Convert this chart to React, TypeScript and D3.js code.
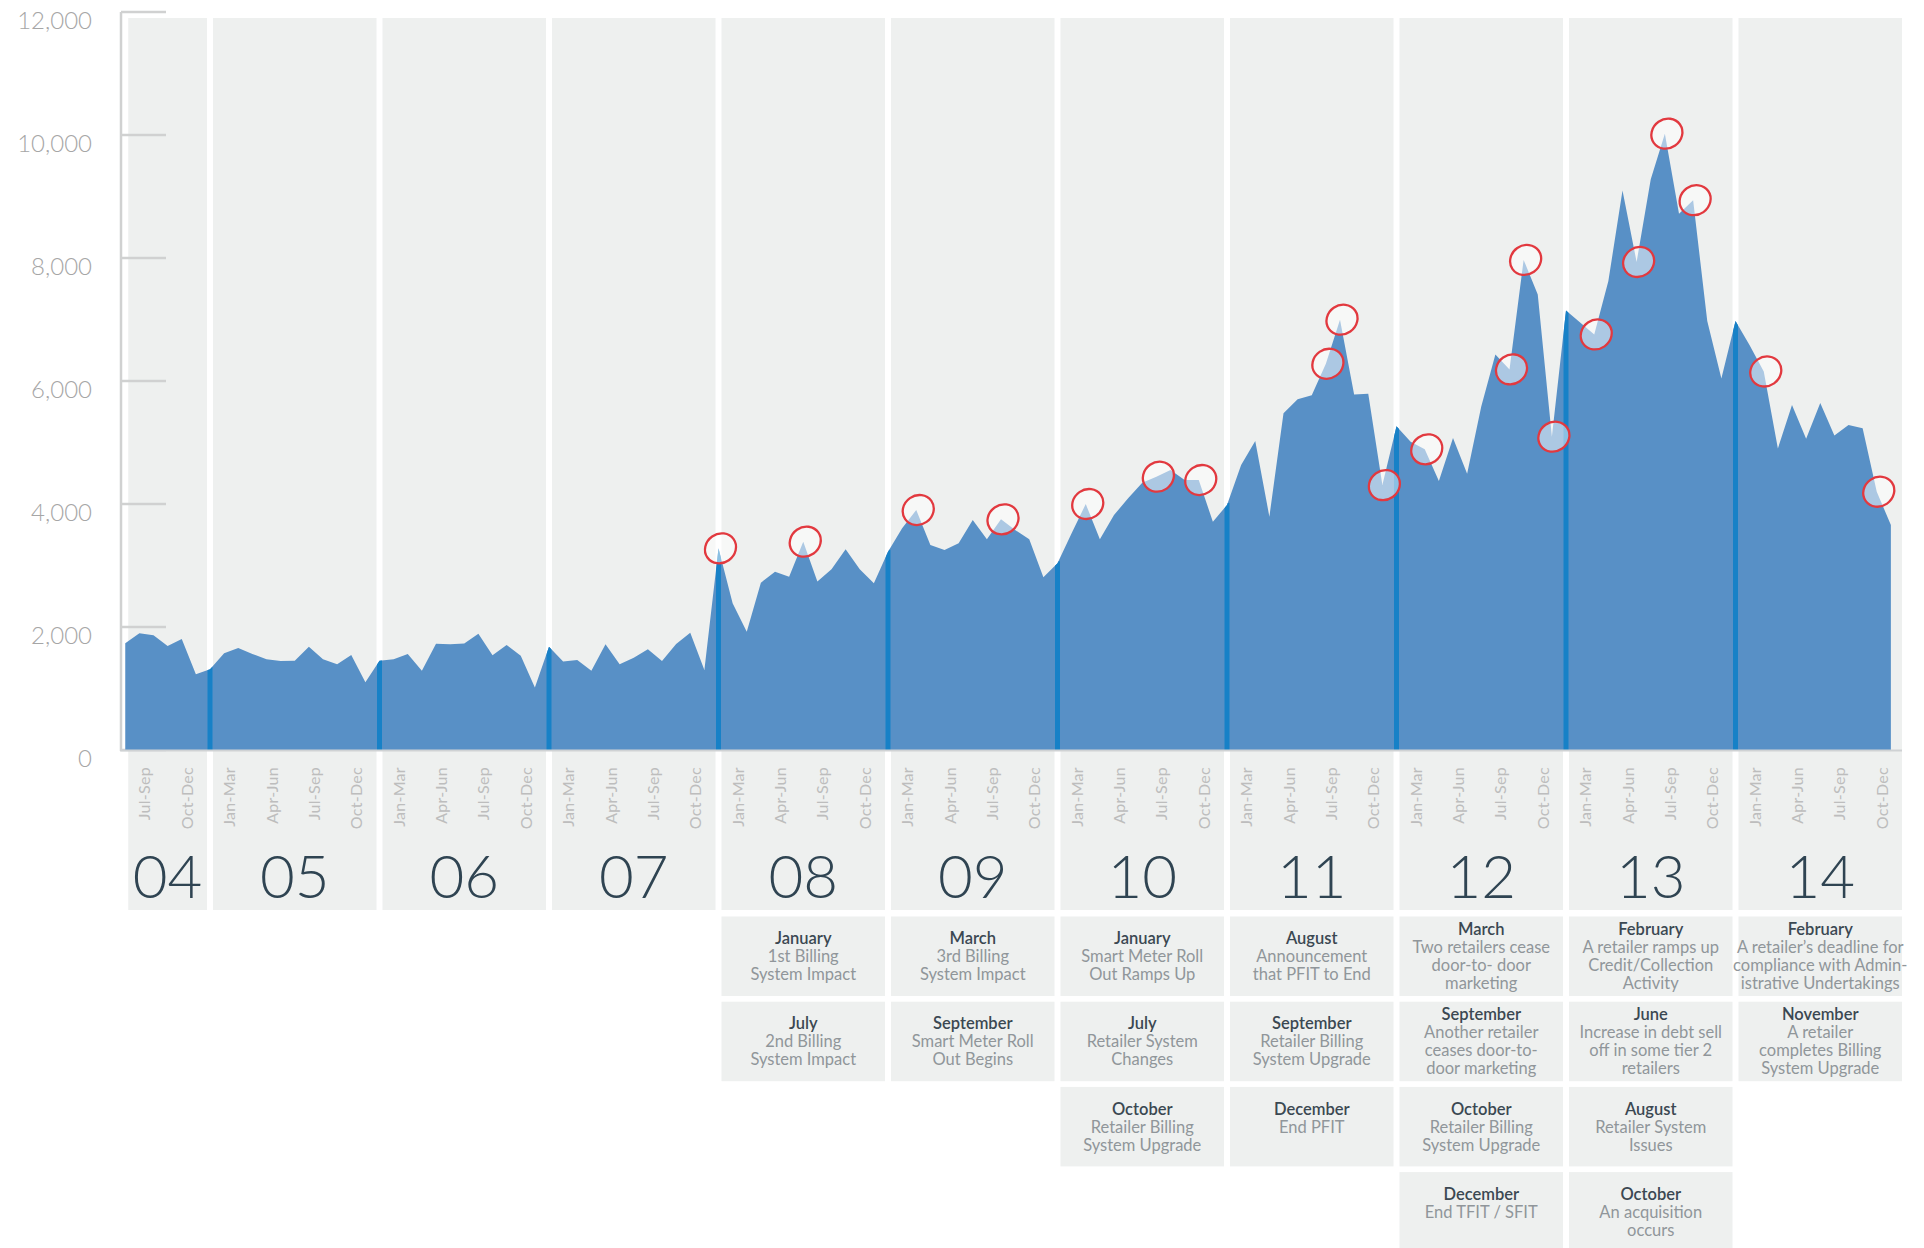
import * as d3 from "d3";

const W = 1924;
const H = 1248;

// monthly values, Jul 2004 .. Dec 2014
const values2004 = [1735, 1897, 1865, 1691, 1805, 1230];
const values2005 = [1312, 1572, 1658, 1561, 1474, 1447, 1452, 1680, 1474, 1393, 1545, 1100];
const values2006 = [1452, 1474, 1561, 1290, 1729, 1718, 1732, 1890, 1540, 1707, 1534, 1016];
const values2007 = [1680, 1438, 1463, 1287, 1718, 1393, 1501, 1637, 1447, 1724, 1908, 1301];
const values2008 = [3279, 2385, 1924, 2721, 2900, 2819, 3388, 2738, 2938, 3263, 2938, 2710];
const values2009 = [3225, 3604, 3902, 3333, 3252, 3360, 3740, 3426, 3751, 3577, 3426, 2808];
const values2010 = [3035, 3523, 4000, 3426, 3821, 4092, 4346, 4444, 4553, 4390, 4390, 3712];
const values2011 = [3984, 4634, 5024, 3794, 5475, 5702, 5770, 6280, 6997, 5779, 5792, 4307];
const values2012 = [5266, 5012, 4889, 4376, 5074, 4492, 5587, 6429, 6189, 7969, 7408, 5095];
const values2013 = [7148, 6950, 6757, 7626, 9098, 7935, 9282, 10022, 8721, 8940, 6976, 6039];
const values2014 = [6976, 6580, 6155, 4903, 5608, 5060, 5642, 5115, 5286, 5231, 4200, 3658];

const series = [
  ...values2004, ...values2005, ...values2006, ...values2007, ...values2008, ...values2009,
  ...values2010, ...values2011, ...values2012, ...values2013, ...values2014,
];

const years = [2004, 2005, 2006, 2007, 2008, 2009, 2010, 2011, 2012, 2013, 2014];
const quarterNames = ["Jan-Mar", "Apr-Jun", "Jul-Sep", "Oct-Dec"];
const yTicks = [0, 2000, 4000, 6000, 8000, 10000, 12000];

// hand drawn rings on the chart
const circleMonths = [
  "2008-01", "2008-07", "2009-03", "2009-09", "2010-03", "2010-08", "2010-11",
  "2011-08", "2011-09", "2011-12", "2012-03", "2012-09", "2012-10", "2012-12",
  "2013-03", "2013-06", "2013-08", "2013-10", "2014-03", "2014-11",
];

const eventYear = [
  2008, 2008,
  2009, 2009,
  2010, 2010, 2010,
  2011, 2011, 2011,
  2012, 2012, 2012, 2012,
  2013, 2013, 2013, 2013,
  2014, 2014,
];
const eventMonth = [
  "January", "July",
  "March", "September",
  "January", "July", "October",
  "August", "September", "December",
  "March", "September", "October", "December",
  "February", "June", "August", "October",
  "February", "November",
];
const eventText = [
  ["1st Billing", "System Impact"],
  ["2nd Billing", "System Impact"],
  ["3rd Billing", "System Impact"],
  ["Smart Meter Roll", "Out Begins"],
  ["Smart Meter Roll", "Out Ramps Up"],
  ["Retailer System", "Changes"],
  ["Retailer Billing", "System Upgrade"],
  ["Announcement", "that PFIT to End"],
  ["Retailer Billing", "System Upgrade"],
  ["End PFIT"],
  ["Two retailers cease", "door-to- door", "marketing"],
  ["Another retailer", "ceases door-to-", "door marketing"],
  ["Retailer Billing", "System Upgrade"],
  ["End TFIT / SFIT"],
  ["A retailer ramps up", "Credit/Collection", "Activity"],
  ["Increase in debt sell", "off in some tier 2", "retailers"],
  ["Retailer System", "Issues"],
  ["An acquisition", "occurs"],
  ["A retailer\u2019s deadline for", "compliance with Admin-", "istrative Undertakings"],
  ["A retailer", "completes Billing", "System Upgrade"],
];

const FONT = "Lato, 'Open Sans', sans-serif";
const BLUE = "#5890c6";
const DARK_BLUE = "#1781c7";
const PANEL = "#eef0ef";

const x = d3.scaleLinear().domain([0, 126]).range([125.25, 1905]);
const y = d3.scaleLinear().domain([0, 12000]).range([750, 12]);

function monthIndex(key: string) {
  const [yy, mm] = key.split("-").map(Number);
  return (yy - 2004) * 12 + (mm - 1) - 6;
}

function yearSpan(year: number): [number, number] {
  if (year === 2004) return [0, 6];
  const s = (year - 2005) * 12 + 6;
  return [s, s + 12];
}

export default function App() {
  const area = d3
    .area<number>()
    .x((_, i) => x(i))
    .y0(y(0))
    .y1((d) => y(d))
    .curve(d3.curveLinear);
  const areaPath = area(series) ?? "";

  const rowCount: Record<number, number> = {};
  const boxes = eventYear.map((yr, k) => {
    const row = rowCount[yr] ?? 0;
    rowCount[yr] = row + 1;
    return { yr, row, title: eventMonth[k], lines: eventText[k] };
  });

  return (
    <div style={{ position: "absolute", left: 0, top: 0 }}>
      <svg width={W} height={H} style={{ display: "block", background: "#fff" }} fontFamily={FONT}>
        <defs>
          <clipPath id="area-clip">
            <path d={areaPath} />
          </clipPath>
        </defs>

        {years.map((yr) => {
          const [a, b] = yearSpan(yr);
          return (
            <rect key={yr} x={x(a) + 3} y={18} width={x(b) - x(a) - 6} height={892} fill={PANEL} />
          );
        })}

        {yTicks.map((t) => (
          <g key={t}>
            <line x1={121} x2={166} y1={y(t)} y2={y(t)} stroke="#d0d1d1" strokeWidth={2.5} />
            <text
              x={92}
              y={y(t) + 7}
              textAnchor="end"
              dominantBaseline="central"
              fontSize={24}
              fontWeight={300}
              fill="#a6a6a6"
            >
              {d3.format(",")(t)}
            </text>
          </g>
        ))}

        <path d={areaPath} fill={BLUE} />

        <g clipPath="url(#area-clip)">
          {years.slice(1).map((yr) => {
            const i = yearSpan(yr)[0];
            return (
              <line key={yr} x1={x(i)} x2={x(i)} y1={y(0)} y2={y(series[i]) - 2} stroke={DARK_BLUE} strokeWidth={5} />
            );
          })}
        </g>

        <line x1={121} x2={121} y1={12} y2={751} stroke="#d0d1d1" strokeWidth={2.5} />
        <line x1={120} x2={x(126) - 3} y1={750.5} y2={750.5} stroke="#cfd2d4" strokeWidth={2} />

        {circleMonths.map((m) => {
          const i = monthIndex(m);
          const cx = x(i) + 2;
          const cy = y(series[i]);
          return (
            <ellipse
              key={m}
              cx={0}
              cy={0}
              rx={16}
              ry={14.5}
              transform={`translate(${cx},${cy}) rotate(-35)`}
              fill="rgba(255,255,255,0.5)"
              stroke="#e2393f"
              strokeWidth={2.3}
            />
          );
        })}

        {years.map((yr) => {
          const [a, b] = yearSpan(yr);
          const quarters = yr === 2004 ? [2, 3] : [0, 1, 2, 3];
          return (
            <g key={yr}>
              {quarters.map((q, k) => {
                const qx = x(a + k * 3 + 1.5) - 2.5;
                return (
                  <text
                    key={q}
                    transform={`translate(${qx},767) rotate(-90)`}
                    textAnchor="end"
                    dominantBaseline="central"
                    fontSize={16}
                    fontWeight={400}
                    letterSpacing={0.3}
                    fill="#bdbdbd"
                  >
                    {quarterNames[q]}
                  </text>
                );
              })}
              <text
                x={(x(a) + x(b)) / 2}
                y={898}
                textAnchor="middle"
                fontSize={60}
                fontWeight={300}
                fill="#2f4452"
              >
                {String(yr).slice(2)}
              </text>
            </g>
          );
        })}

        {boxes.map((bx, k) => {
          const [a, b] = yearSpan(bx.yr);
          const left = x(a) + 3;
          const width = x(b) - x(a) - 6;
          const top = 916.5 + bx.row * 85.2;
          const lines = [bx.title, ...bx.lines];
          const n = Math.max(lines.length, 3);
          const cx = left + width / 2;
          return (
            <g key={k}>
              <rect x={left} y={top} width={width} height={79.5} fill={PANEL} />
              {lines.map((ln, j) => (
                <text
                  key={j}
                  x={cx}
                  y={top + 39.75 + (j - (n - 1) / 2) * 18}
                  textAnchor="middle"
                  dominantBaseline="central"
                  fontSize={16.5}
                  fontWeight={j === 0 ? 600 : 400}
                  fill={j === 0 ? "#3b4852" : "#90969a"}
                >
                  {ln}
                </text>
              ))}
            </g>
          );
        })}
      </svg>
    </div>
  );
}
